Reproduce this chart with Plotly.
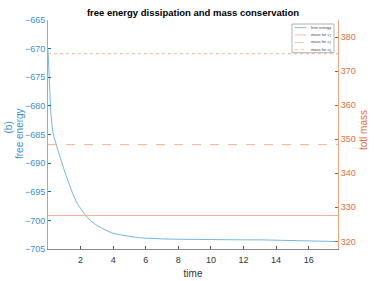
import plotly.graph_objects as go

# data
time = [0.0, 0.08, 0.16, 0.25, 0.35, 0.51, 0.68, 0.86, 1.05, 1.27, 1.5, 1.78, 2.0, 2.29, 2.6, 2.9,
        3.4, 3.92, 4.4, 4.94, 5.5, 5.96, 6.5, 7.18, 8.0, 9.0, 10.0, 11.0, 12.0, 13.0, 14.0,
        15.0, 16.0, 17.0, 17.8]
energy = [-670.2, -676.5, -680.8, -683.6, -685.3, -686.8, -688.5, -690.0, -691.7, -693.5,
          -695.2, -697.0, -698.0, -699.1, -700.0, -700.7, -701.5, -702.2, -702.5, -702.8,
          -703.0, -703.1, -703.2, -703.25, -703.3, -703.35, -703.35, -703.4, -703.4, -703.4,
          -703.45, -703.5, -703.6, -703.65, -703.7]
mass_c1 = 327.6
mass_c2 = 348.4
mass_c3 = 375.1
x_ticks = [2, 4, 6, 8, 10, 12, 14, 16]
y_ticks = [-705, -700, -695, -690, -685, -680, -675, -670, -665]
y2_ticks = [320, 330, 340, 350, 360, 370, 380]
legend_labels = ["free energy", "mass for c<sub>1</sub>", "mass for c<sub>2</sub>",
                 "mass for c<sub>3</sub>"]

BLUE = "#0072BD"
ORANGE = "#D95319"
LBLUE = "#6aaee0"
LORANGE = "#f2b394"
FONT = "Liberation Sans, Arial, sans-serif"

W, H = 374, 281
SX0, SX1, SY0, SY1 = 48, 338, 20, 249   # plot area in pixels
L, T, R, B = SX0, SY0, W - SX1, H - SY1
PW, PH = SX1 - SX0, SY1 - SY0


def px(x):
    return (x - SX0) / PW


def py(y):
    return 1 - (y - SY0) / PH


t0, t1 = time[0], time[-1]

fig = go.Figure()
fig.add_trace(go.Scatter(x=time, y=energy, mode="lines", name=legend_labels[0],
                         line=dict(color=LBLUE, width=0.9)))
fig.add_trace(go.Scatter(x=[t0, t1], y=[mass_c1, mass_c1], mode="lines", yaxis="y2",
                         name=legend_labels[1], line=dict(color=LORANGE, width=1)))
fig.add_trace(go.Scatter(x=[t0, t1], y=[mass_c2, mass_c2], mode="lines", yaxis="y2",
                         name=legend_labels[2],
                         line=dict(color=LORANGE, width=1, dash="dash")))
fig.add_trace(go.Scatter(x=[t0, t1], y=[mass_c3, mass_c3], mode="lines", yaxis="y2",
                         name=legend_labels[3],
                         line=dict(color=LORANGE, width=1, dash="dot")))

# compact MATLAB-style legend
shapes = [dict(type="rect", xref="paper", yref="paper",
               x0=px(292), x1=px(334), y0=py(52.7), y1=py(24),
               fillcolor="white", line=dict(color="#a0a0a0", width=0.8), layer="above")]
annotations = []
styles = [(LBLUE, "solid"), (LORANGE, "solid"), (LORANGE, "dash"), (LORANGE, "dot")]
rows = [27.6, 35.0, 42.5, 49.6]
for (col, dash), yy, lab in zip(styles, rows, legend_labels):
    shapes.append(dict(type="line", xref="paper", yref="paper",
                       x0=px(294.7), x1=px(306.3), y0=py(yy), y1=py(yy),
                       line=dict(color=col, width=0.8, dash=dash), layer="above"))
    annotations.append(dict(xref="paper", yref="paper", x=px(308.5), y=py(yy),
                            xanchor="left", yanchor="middle", text=lab, showarrow=False,
                            font=dict(size=4, color="#444444", family=FONT)))

# axis titles
annotations.append(dict(xref="paper", yref="paper", x=px(7.5), y=py(128),
                        xanchor="center", yanchor="middle", textangle=-90,
                        text="(b)", showarrow=False,
                        font=dict(size=10, color="#3d8fd0", family=FONT)))
annotations.append(dict(xref="paper", yref="paper", x=px(19), y=py(134),
                        xanchor="center", yanchor="middle", textangle=-90,
                        text="free energy", showarrow=False,
                        font=dict(size=10, color="#3d8fd0", family=FONT)))
annotations.append(dict(xref="paper", yref="paper", x=px(363), y=py(130),
                        xanchor="center", yanchor="middle", textangle=-90,
                        text="totl mass", showarrow=False,
                        font=dict(size=10, color="#e0703c", family=FONT)))

fig.update_layout(
    width=W, height=H,
    margin=dict(l=L, r=R, t=T, b=B),
    paper_bgcolor="white", plot_bgcolor="white",
    font=dict(family=FONT, size=9, color="#262626"),
    title=dict(text="<b>free energy dissipation and mass conservation</b>",
               x=193 / W, xanchor="center",
               y=1 - 12.5 / H, yanchor="middle", yref="container",
               font=dict(size=9.5, color="black")),
    showlegend=False,
    hovermode=False,
    shapes=shapes,
    annotations=annotations,
    xaxis=dict(range=[t0, t1], tickvals=x_ticks, ticks="inside", ticklen=3,
               tickcolor="#555555", showline=True, linecolor="#888888", linewidth=1,
               showgrid=False, zeroline=False, ticklabelstandoff=2, automargin=False,
               tickfont=dict(size=9, color="#333333"),
               title=dict(text="time", font=dict(size=10, color="#333333"), standoff=6)),
    yaxis=dict(range=[-705, -665], tickvals=y_ticks, ticks="inside", ticklen=3,
               tickcolor=BLUE, showline=True, linecolor="#7fb6df", linewidth=1,
               showgrid=False, zeroline=False, automargin=False,
               tickfont=dict(size=9, color="#3d8fd0")),
    yaxis2=dict(range=[317.76, 385.0], tickvals=y2_ticks, ticks="inside", ticklen=3,
                tickcolor=ORANGE, showline=True, linecolor="#f0a37f", linewidth=1,
                overlaying="y", side="right", showgrid=False, zeroline=False,
                automargin=False,
                tickfont=dict(size=9, color="#e0703c")),
)

fig.write_html("out.html",
               config={"displayModeBar": False, "staticPlot": True},
               post_script="document.body.style.margin='0';"
                           "document.body.style.overflow='hidden';")
